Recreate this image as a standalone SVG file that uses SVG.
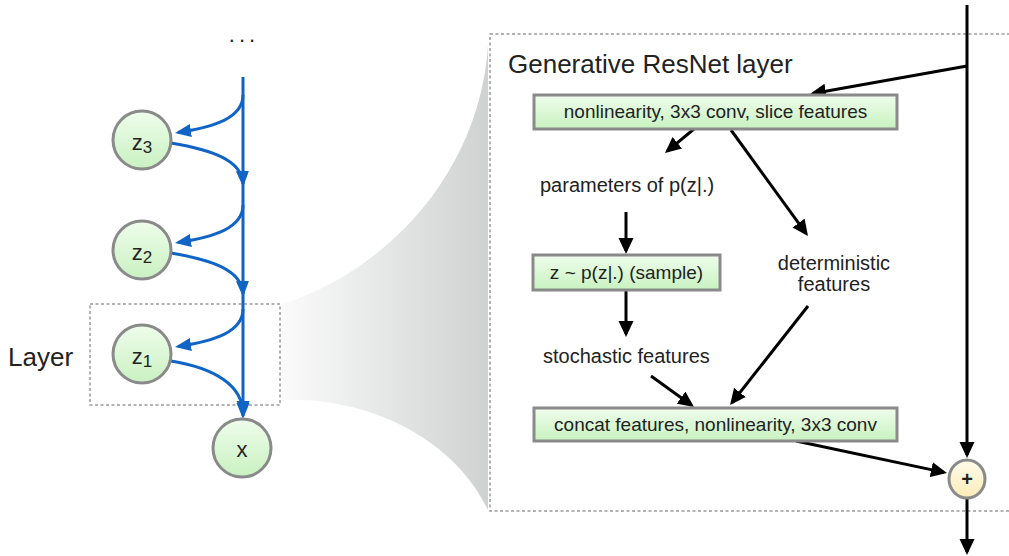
<svg xmlns="http://www.w3.org/2000/svg" width="1009" height="556" viewBox="0 0 1009 556">
<defs>
<style>
text{font-family:"Liberation Sans",Arial,sans-serif;fill:#222}
.box{fill:url(#green);stroke:#8a8a8a;stroke-width:3}
.node{fill:url(#greenC);stroke:#8a8a8a;stroke-width:3}
.blue{fill:none;stroke:#0f64c6;stroke-width:3;marker-end:url(#bArrow)}
.blk{fill:none;stroke:#000;stroke-width:3;marker-end:url(#kArrow)}
.lbl{font-size:19px}
.free{font-size:20px}
.dash{fill:none;stroke:#9a9a9a;stroke-width:1.5;stroke-dasharray:3 2.5}
</style>
<linearGradient id="funnel" x1="280" y1="0" x2="488" y2="0" gradientUnits="userSpaceOnUse"><stop offset="0" stop-color="#fbfbfb"/><stop offset="1" stop-color="#d0d2d2"/></linearGradient>
<linearGradient id="green" x1="0" y1="0" x2="0" y2="1"><stop offset="0" stop-color="#effdec"/><stop offset="1" stop-color="#c8f2c0"/></linearGradient>
<linearGradient id="greenC" x1="0" y1="0" x2="0" y2="1"><stop offset="0" stop-color="#eefdeb"/><stop offset="1" stop-color="#c9f1c1"/></linearGradient>
<linearGradient id="yellow" x1="0" y1="0" x2="0" y2="1"><stop offset="0" stop-color="#fffcec"/><stop offset="1" stop-color="#fbebb6"/></linearGradient>
<marker id="bArrow" markerUnits="userSpaceOnUse" markerWidth="16" markerHeight="14" viewBox="0 0 16 14" refX="13" refY="7" orient="auto"><path d="M0,0.5 L16,7 L0,13.5 z" fill="#0f64c6"/></marker>
<marker id="kArrow" markerUnits="userSpaceOnUse" markerWidth="16" markerHeight="16" viewBox="0 0 16 16" refX="13" refY="8" orient="auto"><path d="M0,0.5 L16,8 L0,15.5 z" fill="#000"/></marker>
</defs>
<rect width="1009" height="556" fill="#fff"/>

<g id="funnel-shade">
<path d="M280,305 C390,270 480,170 488,45 L488,510 C455,440 370,396 280,400 Z" fill="url(#funnel)"/>
</g>

<g id="layer-box">
<rect class="dash" x="90" y="304" width="190" height="101"/>
<text x="8" y="366" style="font-size:26px">Layer</text>
</g>

<g id="resnet-box">
<rect class="dash" x="490" y="34" width="560" height="477"/>
<text x="508" y="73" style="font-size:26px">Generative ResNet layer</text>
</g>

<g id="dots"><text x="244" y="42" text-anchor="middle" style="font-size:22px" letter-spacing="4">...</text></g>

<g id="connectors">
<path class="blue" d="M243,77 L243,416"/>
<path class="blue" d="M243,95 C243,118 214,127 178,132.5"/>
<path class="blue" d="M171,143 C212,150 242,160 243,184"/>
<path class="blue" d="M243,205 C243,228 214,237 178,242.5"/>
<path class="blue" d="M171,253 C212,260 242,270 243,294"/>
<path class="blue" d="M243,309 C243,332 214,341 178,346.5"/>
<path class="blue" d="M171,361 C214,368 243,385 243,414"/>

<path class="blk" d="M967,66 L813,93.5"/>
<path class="blk" d="M694,129 L667.3,151.1"/>
<path class="blk" d="M731,130 L806.2,233.6"/>
<path class="blk" d="M626,212 L626,251"/>
<path class="blk" d="M626,290 L626,334"/>
<path class="blk" d="M651,376 L691.6,405.3"/>
<path class="blk" d="M808,306 L731.9,402.7"/>
<path class="blk" d="M796,441 L944,472.4"/>
<path class="blk" d="M967,5 L967,455"/>
<path class="blk" d="M967,498 L967,552"/>
</g>

<g id="z3"><circle class="node" cx="142" cy="140" r="29"/><text x="142" y="150" text-anchor="middle" style="font-size:22px">z<tspan dy="3" style="font-size:17px">3</tspan></text></g>
<g id="z2"><circle class="node" cx="142" cy="250" r="29"/><text x="142" y="260" text-anchor="middle" style="font-size:22px">z<tspan dy="3" style="font-size:17px">2</tspan></text></g>
<g id="z1"><circle class="node" cx="142" cy="354" r="29"/><text x="142" y="364" text-anchor="middle" style="font-size:22px">z<tspan dy="3" style="font-size:17px">1</tspan></text></g>
<g id="x"><circle class="node" cx="242" cy="448" r="29"/><text x="242" y="457" text-anchor="middle" style="font-size:22px">x</text></g>

<g id="box1"><rect class="box" x="534" y="95" width="363" height="34"/><text class="lbl" x="715.5" y="118" text-anchor="middle">nonlinearity, 3x3 conv, slice features</text></g>
<g id="params"><text class="free" x="540" y="192">parameters of p(z|.)</text></g>
<g id="box2"><rect class="box" x="533" y="255" width="187" height="35"/><text class="lbl" x="626.5" y="279" text-anchor="middle">z ~ p(z|.) (sample)</text></g>
<g id="deterministic"><text class="free" x="834" y="270" text-anchor="middle">deterministic</text><text class="free" x="834" y="291" text-anchor="middle">features</text></g>
<g id="stochastic"><text class="free" x="543" y="363">stochastic features</text></g>
<g id="box3"><rect class="box" x="534" y="408" width="363" height="33"/><text class="lbl" x="715.5" y="431" text-anchor="middle">concat features, nonlinearity, 3x3 conv</text></g>
<g id="plus"><ellipse cx="967" cy="479" rx="18" ry="19" fill="url(#yellow)" stroke="#8a8a8a" stroke-width="3"/><text x="967" y="486" text-anchor="middle" style="font-size:20px;font-weight:bold">+</text></g>
</svg>
